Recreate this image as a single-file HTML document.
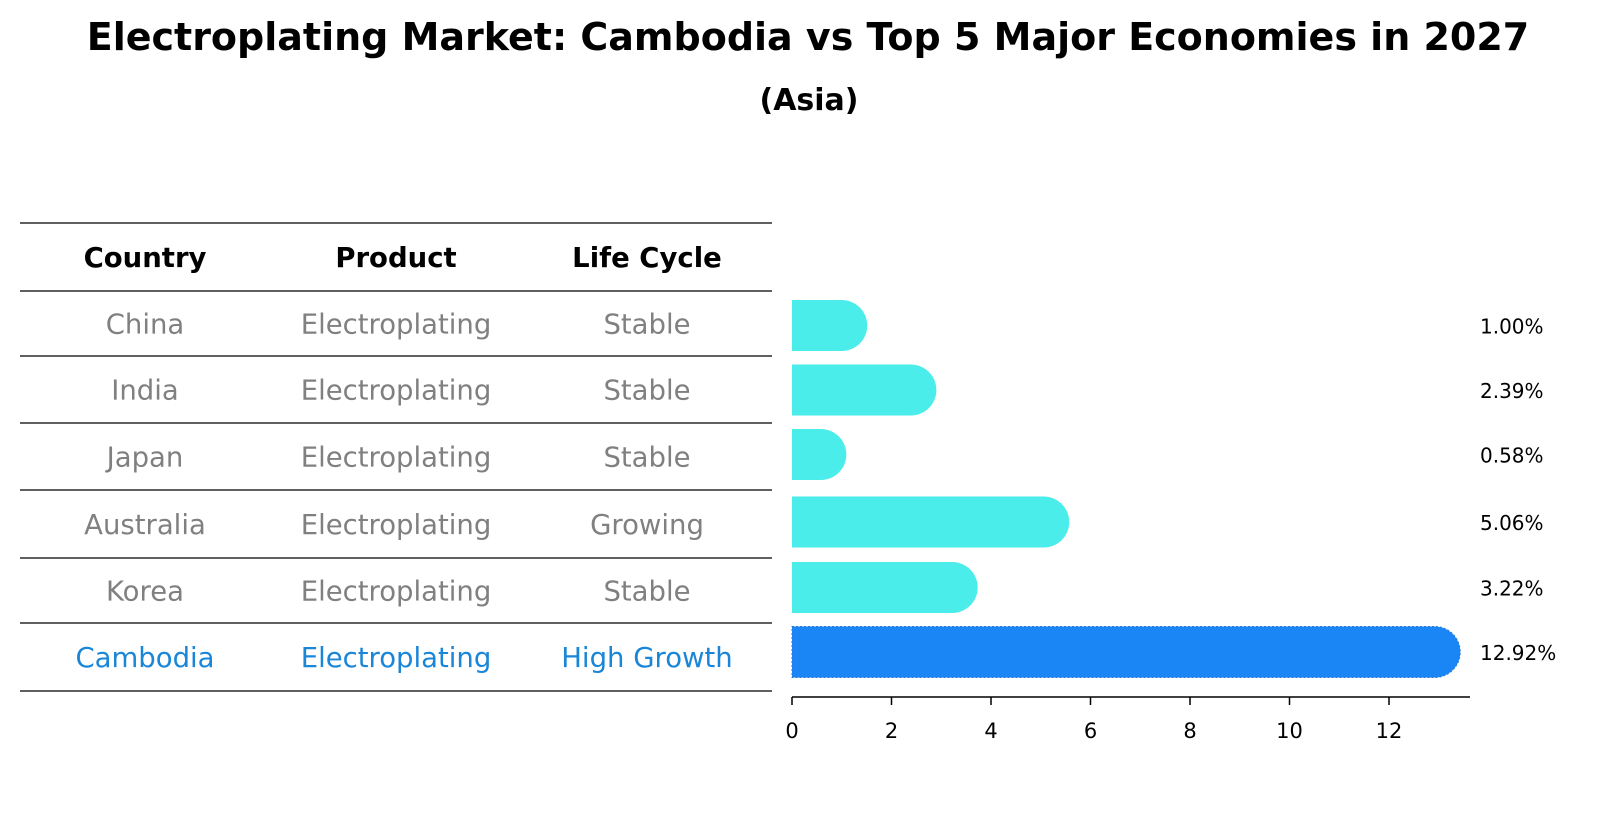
<!DOCTYPE html>
<html><head><meta charset="utf-8"><style>
body{margin:0;background:#fff;width:1604px;height:823px;overflow:hidden;font-family:"DejaVu Sans","Liberation Sans",sans-serif}
</style></head><body>
<svg width="1604" height="823" xmlns="http://www.w3.org/2000/svg" font-family="'DejaVu Sans','Liberation Sans',sans-serif">
<text x="808" y="50" text-anchor="middle" font-size="38" font-weight="bold">Electroplating Market: Cambodia vs Top 5 Major Economies in 2027</text>
<text x="809" y="110" text-anchor="middle" font-size="30" font-weight="bold">(Asia)</text>
<g id="table"></g>
<g id="bars"></g>
</svg>
<script>
const countries=["China","India","Japan","Australia","Korea","Cambodia"];
const products=["Electroplating","Electroplating","Electroplating","Electroplating","Electroplating","Electroplating"];
const lifecycle=["Stable","Stable","Stable","Growing","Stable","High Growth"];
const values=[1.00,2.39,0.58,5.06,3.22,12.92];
const valueLabels=["1.00%","2.39%","0.58%","5.06%","3.22%","12.92%"];
const ticks=[0,2,4,6,8,10,12];

const NS="http://www.w3.org/2000/svg";
function mk(tag,attrs,parent,text){const e=document.createElementNS(NS,tag);for(const k in attrs)e.setAttribute(k,attrs[k]);if(text!==undefined)e.textContent=text;parent.appendChild(e);return e;}
const tbl=document.getElementById('table');
const lineY=[223,291,356,423,490,558,623,691];
lineY.forEach(y=>{const l=mk('line',{x1:20,x2:772,y1:y,y2:y,stroke:'#000','stroke-width':1.2},tbl);

});
const colX=[145,396,647];
["Country","Product","Life Cycle"].forEach((h,i)=>{const t=mk('text',{x:colX[i],y:(lineY[0]+lineY[1])/2+10,'text-anchor':'middle','font-size':27.5,'font-weight':'bold'},tbl,h);

});
countries.forEach((c,r)=>{const y=(lineY[r+1]+lineY[r+2])/2+10;const col=c==="Cambodia"?"#1a86d8":"#808080";
[c,products[r],lifecycle[r]].forEach((v,i)=>{const t=mk('text',{x:colX[i],y:y,'text-anchor':'middle','font-size':27.5,fill:col},tbl,v);

});});

const g=document.getElementById('bars');
const x0=792,scale=49.75,barH=51,r=25.5;
const xs=v=>x0+v*scale;
const rowC=[325.5,390,454.5,522,587.5,652];
values.forEach((v,i)=>{const cy=rowC[i];const isC=countries[i]==="Cambodia";const col=isC?"#1a86f5":"#4aede9";
const w=xs(v)-x0;
const attrs={d:`M${x0},${cy-barH/2} H${x0+w} A${r},${r} 0 0 1 ${x0+w},${cy+barH/2} H${x0} Z`,fill:col};
if(isC){attrs.stroke='#2a78d8';attrs['stroke-width']=1;attrs['stroke-dasharray']='2,2';}
const p=mk('path',attrs,g);


const t=mk('text',{x:1480,y:cy+8,'font-size':20},g,valueLabels[i]);

});
const ax=mk('line',{x1:x0,x2:1470,y1:697,y2:697,stroke:'#000','stroke-width':1.5},g);


ticks.forEach(tv=>{const x=xs(tv);
const tk=mk('line',{x1:x,x2:x,y1:697,y2:705,stroke:'#000','stroke-width':1.5},g);


const tl=mk('text',{x:x,y:738,'text-anchor':'middle','font-size':21},g,String(tv));

});
</script>
</body></html>
